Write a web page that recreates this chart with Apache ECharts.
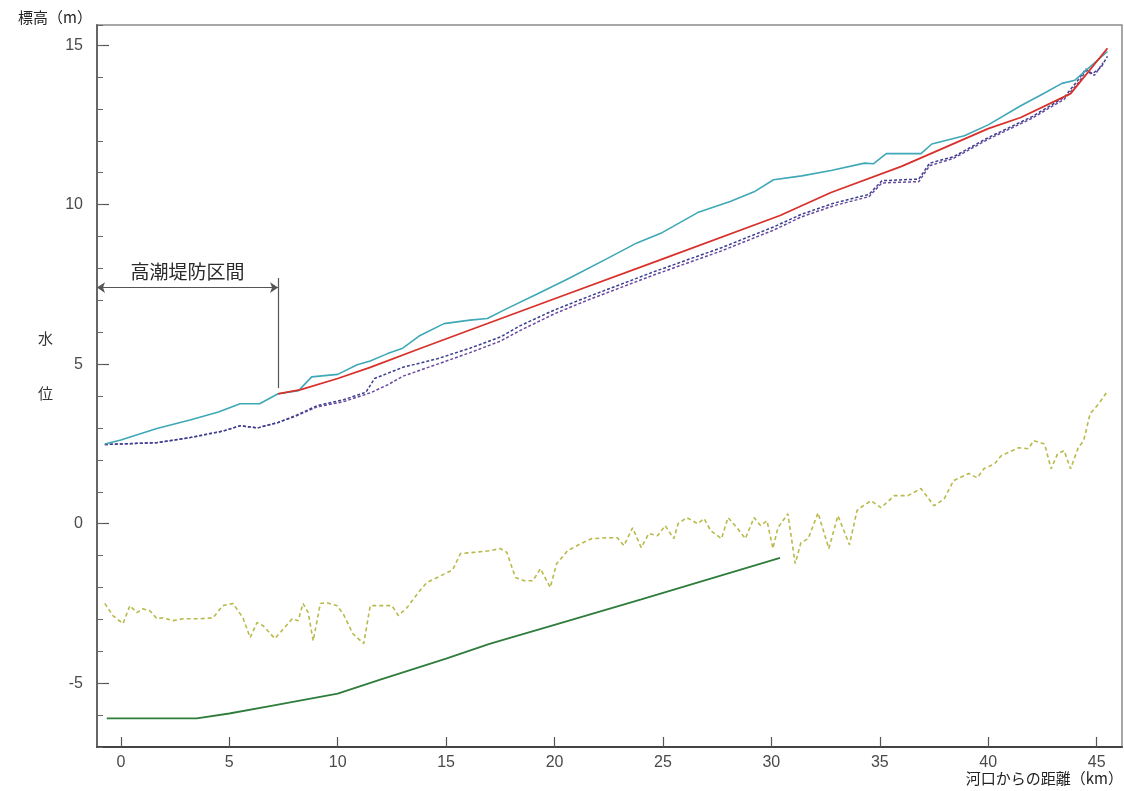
<!DOCTYPE html>
<html>
<head>
<meta charset="utf-8">
<script src="https://cdn.jsdelivr.net/npm/echarts@6/dist/echarts.min.js"></script>
<style>
html,body{margin:0;padding:0;background:#fff;}
#c{width:1124px;height:791px;}
</style>
</head>
<body>
<div id="c"></div>
<script>
// ---- tick labels ----
const xTicks = [0, 5, 10, 15, 20, 25, 30, 35, 40, 45];
const yTicks = [-5, 0, 5, 10, 15];

// ---- series values [km, m] ----
const cyanLine = [[-0.74,2.5],[0,2.62],[1.66,2.98],[3.19,3.25],[4.5,3.5],[5.5,3.76],[6.4,3.76],[7.25,4.07],[8.2,4.17],[8.8,4.6],[10,4.68],[10.9,4.98],[11.5,5.1],[12.3,5.33],[13,5.5],[13.8,5.9],[14.9,6.27],[16.1,6.38],[16.9,6.43],[17.8,6.74],[19.2,7.2],[20.7,7.7],[22.4,8.3],[23.8,8.8],[24.9,9.1],[26.6,9.75],[28.1,10.1],[29.2,10.4],[30.1,10.78],[31.4,10.9],[32.75,11.07],[34.3,11.3],[34.7,11.28],[35.3,11.6],[36.9,11.6],[37.4,11.9],[38.9,12.16],[40,12.5],[41.5,13.1],[42.6,13.5],[43.4,13.8],[44,13.9],[44.6,14.26],[45.5,14.8]];

const redLine = [[7.25,4.07],[8.3,4.2],[10,4.55],[11.5,4.9],[13.8,5.49],[16.1,6.07],[20,7.05],[25,8.3],[30.4,9.66],[32.75,10.38],[36,11.2],[40,12.38],[41.5,12.73],[43.8,13.48],[45.5,14.9]];

const dashUpper = [[-0.74,2.48],[0.1,2.5],[1.66,2.54],[3.2,2.7],[4.7,2.9],[5.5,3.07],[6.3,3.0],[7.25,3.17],[8.1,3.4],[9.05,3.7],[10.25,3.88],[11.3,4.12],[11.7,4.55],[13,4.9],[14.6,5.17],[16.1,5.5],[17.5,5.85],[18.4,6.2],[20,6.7],[21.5,7.1],[24.6,7.9],[27.7,8.65],[30.1,9.3],[31.4,9.7],[32.9,10.05],[34.5,10.32],[35.1,10.75],[36.8,10.8],[37.3,11.3],[38.4,11.5],[40,12.1],[42,12.75],[43.5,13.36],[44.2,13.95],[44.5,14.25],[44.8,14.1],[45.2,14.3],[45.5,14.65]];

const dashLower = [[-0.74,2.48],[0.1,2.5],[1.66,2.54],[3.2,2.7],[4.7,2.9],[5.5,3.07],[6.3,3.0],[7.25,3.17],[8.1,3.38],[9.05,3.66],[10.25,3.82],[11.5,4.1],[12.3,4.35],[13,4.62],[14.6,5.0],[16.1,5.36],[17.5,5.72],[18.4,6.05],[20,6.58],[21.5,7.0],[24.6,7.8],[27.7,8.55],[30.1,9.2],[31.4,9.62],[32.9,9.97],[34.5,10.25],[35.1,10.68],[36.8,10.72],[37.3,11.22],[38.4,11.45],[40,12.05],[42,12.7],[43.5,13.3],[44.2,13.85],[44.5,14.2],[44.9,14.05],[45.3,14.45]];

const greenLine = [[-0.65,-6.1],[3.5,-6.1],[5,-5.95],[7,-5.7],[10,-5.33],[12,-4.88],[15,-4.23],[17,-3.77],[20,-3.17],[24,-2.37],[30.4,-1.07]];

const yellowLine = [[-0.74,-2.5],[-0.37,-2.88],[0.1,-3.13],[0.42,-2.57],[0.74,-2.79],[1.0,-2.67],[1.34,-2.73],[1.66,-2.98],[1.94,-2.95],[2.4,-3.04],[2.87,-2.98],[3.65,-2.98],[4.25,-2.95],[4.7,-2.57],[5.17,-2.5],[5.63,-2.95],[5.96,-3.57],[6.28,-3.1],[6.56,-3.2],[7.1,-3.6],[7.5,-3.3],[7.9,-2.98],[8.18,-3.04],[8.4,-2.5],[8.64,-2.79],[8.87,-3.67],[9.2,-2.5],[9.5,-2.48],[9.97,-2.57],[10.25,-2.82],[10.7,-3.45],[11.2,-3.76],[11.5,-2.57],[12.1,-2.57],[12.5,-2.57],[12.8,-2.88],[13.2,-2.63],[13.67,-2.2],[14.1,-1.85],[14.7,-1.65],[15.3,-1.45],[15.66,-0.94],[16.26,-0.9],[17.0,-0.85],[17.5,-0.78],[17.8,-0.9],[18.2,-1.69],[18.6,-1.79],[19.0,-1.79],[19.35,-1.41],[19.8,-2.0],[20.1,-1.25],[20.6,-0.85],[21.2,-0.63],[21.7,-0.47],[22.45,-0.44],[22.9,-0.44],[23.2,-0.69],[23.6,-0.13],[24.0,-0.75],[24.35,-0.31],[24.75,-0.38],[25.1,-0.06],[25.5,-0.47],[25.7,0.0],[26.1,0.19],[26.6,0.0],[26.9,0.16],[27.2,-0.22],[27.7,-0.47],[28.0,0.19],[28.45,-0.16],[28.8,-0.47],[29.2,0.19],[29.5,-0.06],[29.8,0.09],[30.07,-0.78],[30.3,-0.13],[30.76,0.31],[31.1,-1.25],[31.36,-0.6],[31.7,-0.47],[32.15,0.34],[32.65,-0.78],[33.07,0.25],[33.6,-0.66],[33.95,0.41],[34.1,0.5],[34.6,0.72],[35.06,0.5],[35.67,0.88],[36.3,0.88],[36.9,1.1],[37.5,0.56],[37.97,0.78],[38.4,1.35],[39.1,1.57],[39.5,1.44],[39.8,1.72],[40.3,1.88],[40.6,2.13],[41.4,2.38],[41.85,2.35],[42.1,2.6],[42.6,2.5],[42.9,1.72],[43.2,2.19],[43.5,2.29],[43.8,1.72],[44.15,2.38],[44.4,2.6],[44.7,3.45],[45.1,3.76],[45.45,4.1]];

// ---- annotation (high-tide levee section), data coords ----
const leveeSpanX = [-1.1, 7.25];
const leveeSpanY = 7.4;
const leveeEndY = [7.7, 4.25];
const leveeLabel = '高潮堤防区間';

const X_MIN = -1.1, X_MAX = 46.17, Y_MIN = -7, Y_MAX = 15.63;
const numFont = 'Liberation Sans, Arial, sans-serif';
const jpFont = '"Noto Sans CJK JP", sans-serif';

const chart = echarts.init(document.getElementById('c'));

function lineSeries(data, color, width, type, z) {
  return {
    type: 'line', data: data, symbol: 'none', smooth: false,
    lineStyle: { color: color, width: width, type: type },
    z: z || 2, silent: true
  };
}

const greenSeries = lineSeries(greenLine, '#2f7d3c', 1.8, 'solid', 3);
greenSeries.markLine = {
  silent: true,
  symbolSize: [8, 8],
  lineStyle: { color: '#555', width: 1.2, type: 'solid' },
  label: { show: false },
  data: [
    [
      { coord: [leveeSpanX[0], leveeSpanY], symbol: 'arrow' },
      { coord: [leveeSpanX[1], leveeSpanY], symbol: 'arrow' }
    ],
    [
      { coord: [leveeSpanX[1], leveeEndY[0]], symbol: 'none' },
      { coord: [leveeSpanX[1], leveeEndY[1]], symbol: 'none' }
    ]
  ]
};
greenSeries.markLine.data[0][0].label = {
  show: true, formatter: leveeLabel, position: 'insideMiddleTop', distance: 6,
  fontFamily: jpFont, fontSize: 19, color: '#2a2a2a'
};

chart.setOption({
  animation: false,
  backgroundColor: '#fff',
  grid: {
    left: 97, right: 2, top: 25, bottom: 44,
    show: true, borderColor: '#8a8a8a', borderWidth: 1.5,
    outerBoundsMode: 'none'
  },
  xAxis: {
    type: 'value', min: X_MIN, max: X_MAX,
    axisLine: { show: true, onZero: false, lineStyle: { color: '#444', width: 2 } },
    axisTick: { show: true, inside: true, length: 10, customValues: xTicks, lineStyle: { color: '#555', width: 1.2 } },
    axisLabel: { show: true, customValues: xTicks, margin: 8, fontFamily: numFont, fontSize: 16, color: '#4a4a4a' },
    splitLine: { show: false }
  },
  yAxis: [
    {
      type: 'value', min: Y_MIN, max: Y_MAX,
      axisLine: { show: true, onZero: false, lineStyle: { color: '#666', width: 2 } },
      axisTick: { show: true, inside: true, length: 12, customValues: yTicks, lineStyle: { color: '#555', width: 1.2 } },
      axisLabel: { show: true, customValues: yTicks, margin: 14, fontFamily: numFont, fontSize: 16, color: '#4a4a4a' },
      splitLine: { show: false }
    },
    {
      type: 'value', min: Y_MIN, max: Y_MAX, interval: 1, position: 'left',
      axisLine: { show: false, onZero: false },
      axisTick: { show: true, inside: true, length: 6, lineStyle: { color: '#666', width: 1 } },
      axisLabel: { show: false },
      splitLine: { show: false }
    }
  ],
  series: [
    lineSeries(yellowLine, '#b9b94c', 1.6, [4, 3], 2),
    greenSeries,
    lineSeries(dashLower, '#6a4aa0', 1.5, [3, 2], 3),
    lineSeries(dashUpper, '#3b3f8f', 1.5, [3, 2], 3),
    lineSeries(cyanLine, '#3fa8b6', 1.6, 'solid', 4),
    lineSeries(redLine, '#d8302a', 1.8, 'solid', 5)
  ],
  graphic: [
    { type: 'text', left: 18, top: 10, style: { text: '標高（m）', font: '15px ' + jpFont, fill: '#222' } },
    { type: 'text', left: 38, top: 331, style: { text: '水', font: '15px ' + jpFont, fill: '#333' } },
    { type: 'text', left: 38, top: 386, style: { text: '位', font: '15px ' + jpFont, fill: '#333' } },
    { type: 'text', right: 1, top: 771, style: { text: '河口からの距離（km）', font: '15px ' + jpFont, fill: '#222' } }
  ]
});
</script>
</body>
</html>
